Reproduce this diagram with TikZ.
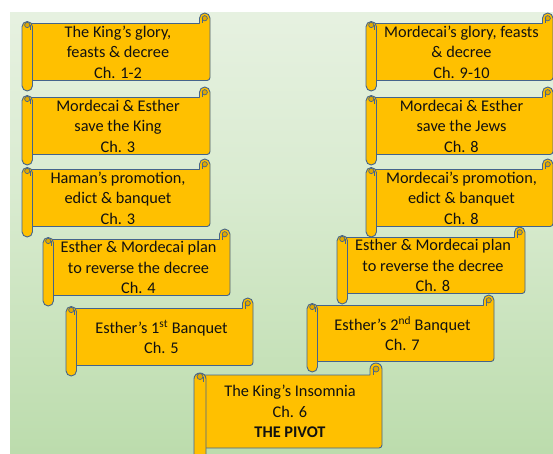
\documentclass[tikz,border=0pt]{standalone}
\usepackage{fontspec}
\setmainfont{Carlito}
\definecolor{bgA}{HTML}{F7F9F5}
\definecolor{bgM}{HTML}{D9EBD0}
\definecolor{bgB}{HTML}{B4D8A3}
\definecolor{bgC}{HTML}{D2E7C8}
\definecolor{gold}{HTML}{FFC000}
\definecolor{golddark}{HTML}{E0A800}
\definecolor{rim}{HTML}{44648C}
\definecolor{ink}{HTML}{111111}
\pgfdeclareverticalshading{bgshade}{100bp}{color(0bp)=(bgC); color(17bp)=(bgB); color(55bp)=(bgM); color(100bp)=(bgA)}
\tikzset{
  scrollline/.style={draw=rim, line width=0.9pt, fill=gold, line join=round},
  curl/.style={draw=rim, line width=0.7pt, fill=golddark},
  scrolltext/.style={text=ink, align=center, font=\fontsize{16.3}{20.5}\selectfont, inner sep=0pt},
}
% #1 name, #2 left, #3 top, #4 right, #5 bottom, #6 roll size, #7 text
\newcommand\scrollbox[7]{%
  % body with top-right roll
  \draw[scrollline]
    ({#2+#6/2},{#3+#6}) -- ({#4-#6},{#3+#6}) -- ({#4-#6},{#3+#6/2})
    [rounded corners=#6/2] -- ({#4-#6},{#3}) -- ({#4},{#3})
    [rounded corners=3] -- ({#4},{#5-#6}) -- ({#2+#6/2},{#5-#6}) [sharp corners] -- cycle;
  \draw[curl] ({#4-#6/2},{#3+#6/2}) circle ({#6/4});
  \draw[draw=rim, line width=0.7pt] ({#4-#6*0.75},{#3+#6/2}) -- ({#4-#6*0.75},{#3+#6});
  % left roll
  \draw[scrollline, rounded corners=#6/2] ({#2},{#3+#6-2}) rectangle ({#2+#6},{#5});
  \draw[curl] ({#2+#6/2},{#3+#6+1.5}) circle ({#6/4});
  \draw[draw=rim, line width=0.7pt] ({#2+#6*0.75},{#3+#6+1.5}) -- ({#2+#6*0.75},{#3+#6*1.6});
  \node[scrolltext] (#1) at ({(#2+#4)/2+2},{(#3+#5)/2}) {#7};
}
\begin{document}
\begin{tikzpicture}[x=1pt,y=-1pt]
\useasboundingbox (0,0) rectangle (553,454);
\fill[white] (0,0) rectangle (553,454);
\shade[shading=bgshade] (10,13) rectangle (553,454);
% left column
\scrollbox{s1}{22}{13}{210}{91}{10.5}{The King’s glory,\\feasts \& decree\\Ch. 1-2}
\scrollbox{s2}{22}{87}{210}{165}{10.5}{Mordecai \& Esther\\save the King\\Ch. 3}
\scrollbox{s3}{22}{159}{210}{237}{10.5}{Haman’s promotion,\\edict \& banquet\\Ch. 3}
\scrollbox{s4}{43}{229}{230}{306}{10.5}{Esther \& Mordecai plan\\to reverse the decree\\Ch. 4}
\scrollbox{s5}{66}{298}{253}{376}{10.5}{Esther’s 1\textsuperscript{st} Banquet\\Ch. 5}
% right column
\scrollbox{r1}{366}{13}{553}{91}{10.5}{Mordecai’s glory, feasts\\\& decree\\Ch. 9-10}
\scrollbox{r2}{366}{87}{553}{165}{10.5}{Mordecai \& Esther\\save the Jews\\Ch. 8}
\scrollbox{r3}{366}{159}{553}{237}{10.5}{Mordecai’s promotion,\\edict \& banquet\\Ch. 8}
\scrollbox{r4}{337}{227}{525}{304}{10.5}{Esther \& Mordecai plan\\to reverse the decree\\Ch. 8}
\scrollbox{r5}{307}{295}{494}{372}{10.5}{Esther’s 2\textsuperscript{nd} Banquet\\Ch. 7}
% pivot
\scrollbox{pv}{194}{363}{382}{460}{12}{The King’s Insomnia\\Ch. 6\\\textbf{THE PIVOT}}
\end{tikzpicture}
\end{document}
